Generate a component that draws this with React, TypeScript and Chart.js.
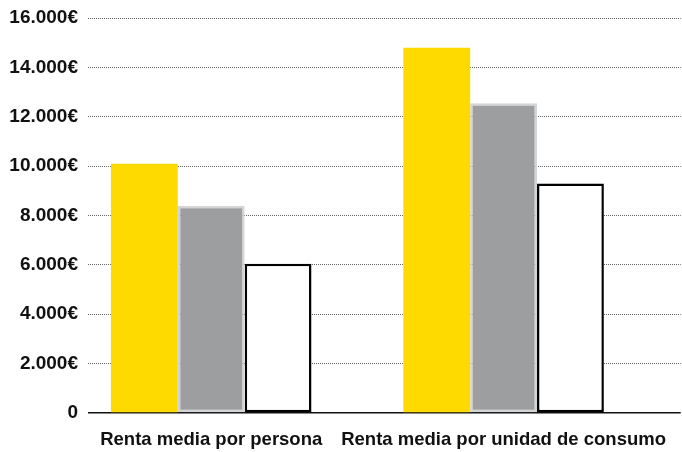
import React, { useEffect, useRef } from 'react';
import { Chart, registerables } from 'chart.js';

Chart.register(...registerables);

const categories = ['Renta media por persona', 'Renta media por unidad de consumo'];
const seriesYellow = [10100, 14800];
const seriesGray = [8400, 12550];
const seriesWhite = [6050, 9300];
const yTickLabels = ['0', '2.000€', '4.000€', '6.000€', '8.000€', '10.000€', '12.000€', '14.000€', '16.000€'];

const FAMILY = "'Liberation Sans', Arial, sans-serif";

export default function App() {
  const ref = useRef<HTMLCanvasElement>(null);

  useEffect(() => {
    document.body.style.margin = '0';
    const toPts = (arr: number[]) => arr.map((y, i) => ({ x: i, y }));
    const chart = new Chart(ref.current as HTMLCanvasElement, {
      type: 'bar',
      data: {
        datasets: [
          { data: toPts(seriesYellow) as any, backgroundColor: '#FFDA00', borderWidth: 0 },
          { data: toPts(seriesGray) as any, backgroundColor: '#9D9EA0', borderColor: '#D3D4D6', borderWidth: 2.5, borderSkipped: false },
          { data: toPts(seriesWhite) as any, backgroundColor: '#FFFFFF', borderColor: '#000000', borderWidth: 2.5, borderSkipped: false },
        ],
      },
      options: {
        animation: false,
        responsive: false,
        maintainAspectRatio: false,
        categoryPercentage: 0.686,
        barPercentage: 1,
        layout: { padding: { top: 18, right: 0, bottom: 0, left: 0 } },
        plugins: { legend: { display: false }, tooltip: { enabled: false } },
        scales: {
          x: {
            type: 'linear',
            offset: false,
            min: -0.4215,
            max: 1.6058,
            grid: { display: false, drawTicks: false, offset: false },
            border: { display: false },
            afterBuildTicks: (s: any) => {
              s.ticks = categories.map((_, i) => ({ value: i }));
            },
            afterFit: (s: any) => {
              s.height = 39;
            },
            ticks: {
              autoSkip: false,
              maxRotation: 0,
              padding: 16,
              color: '#111',
              font: { family: FAMILY, size: 18.5, weight: 'bold' },
              callback: (v: any) => categories[v as number] ?? '',
            },
          },
          y: {
            min: 0,
            max: 16000,
            afterFit: (s: any) => {
              s.width = 88;
              s.paddingTop = 0;
              s.paddingBottom = 0;
            },
            ticks: {
              stepSize: 2000,
              padding: 10,
              color: '#111',
              font: { family: FAMILY, size: 19, weight: 'bold' },
              callback: (_v: any, i: number) => yTickLabels[i],
            },
            grid: {
              color: (ctx: any) => (ctx.tick && ctx.tick.value === 0 ? '#111' : '#666'),
              lineWidth: (ctx: any) => (ctx.tick && ctx.tick.value === 0 ? 1.5 : 1),
              drawTicks: false,
            },
            border: {
              display: false,
              dash: (ctx: any) => (ctx.tick && ctx.tick.value === 0 ? [] : [1, 1]),
            },
          },
        },
      } as any,
    });
    return () => chart.destroy();
  }, []);

  return (
    <div style={{ width: 682, height: 452 }}>
      <canvas ref={ref} width={682} height={452} />
    </div>
  );
}
